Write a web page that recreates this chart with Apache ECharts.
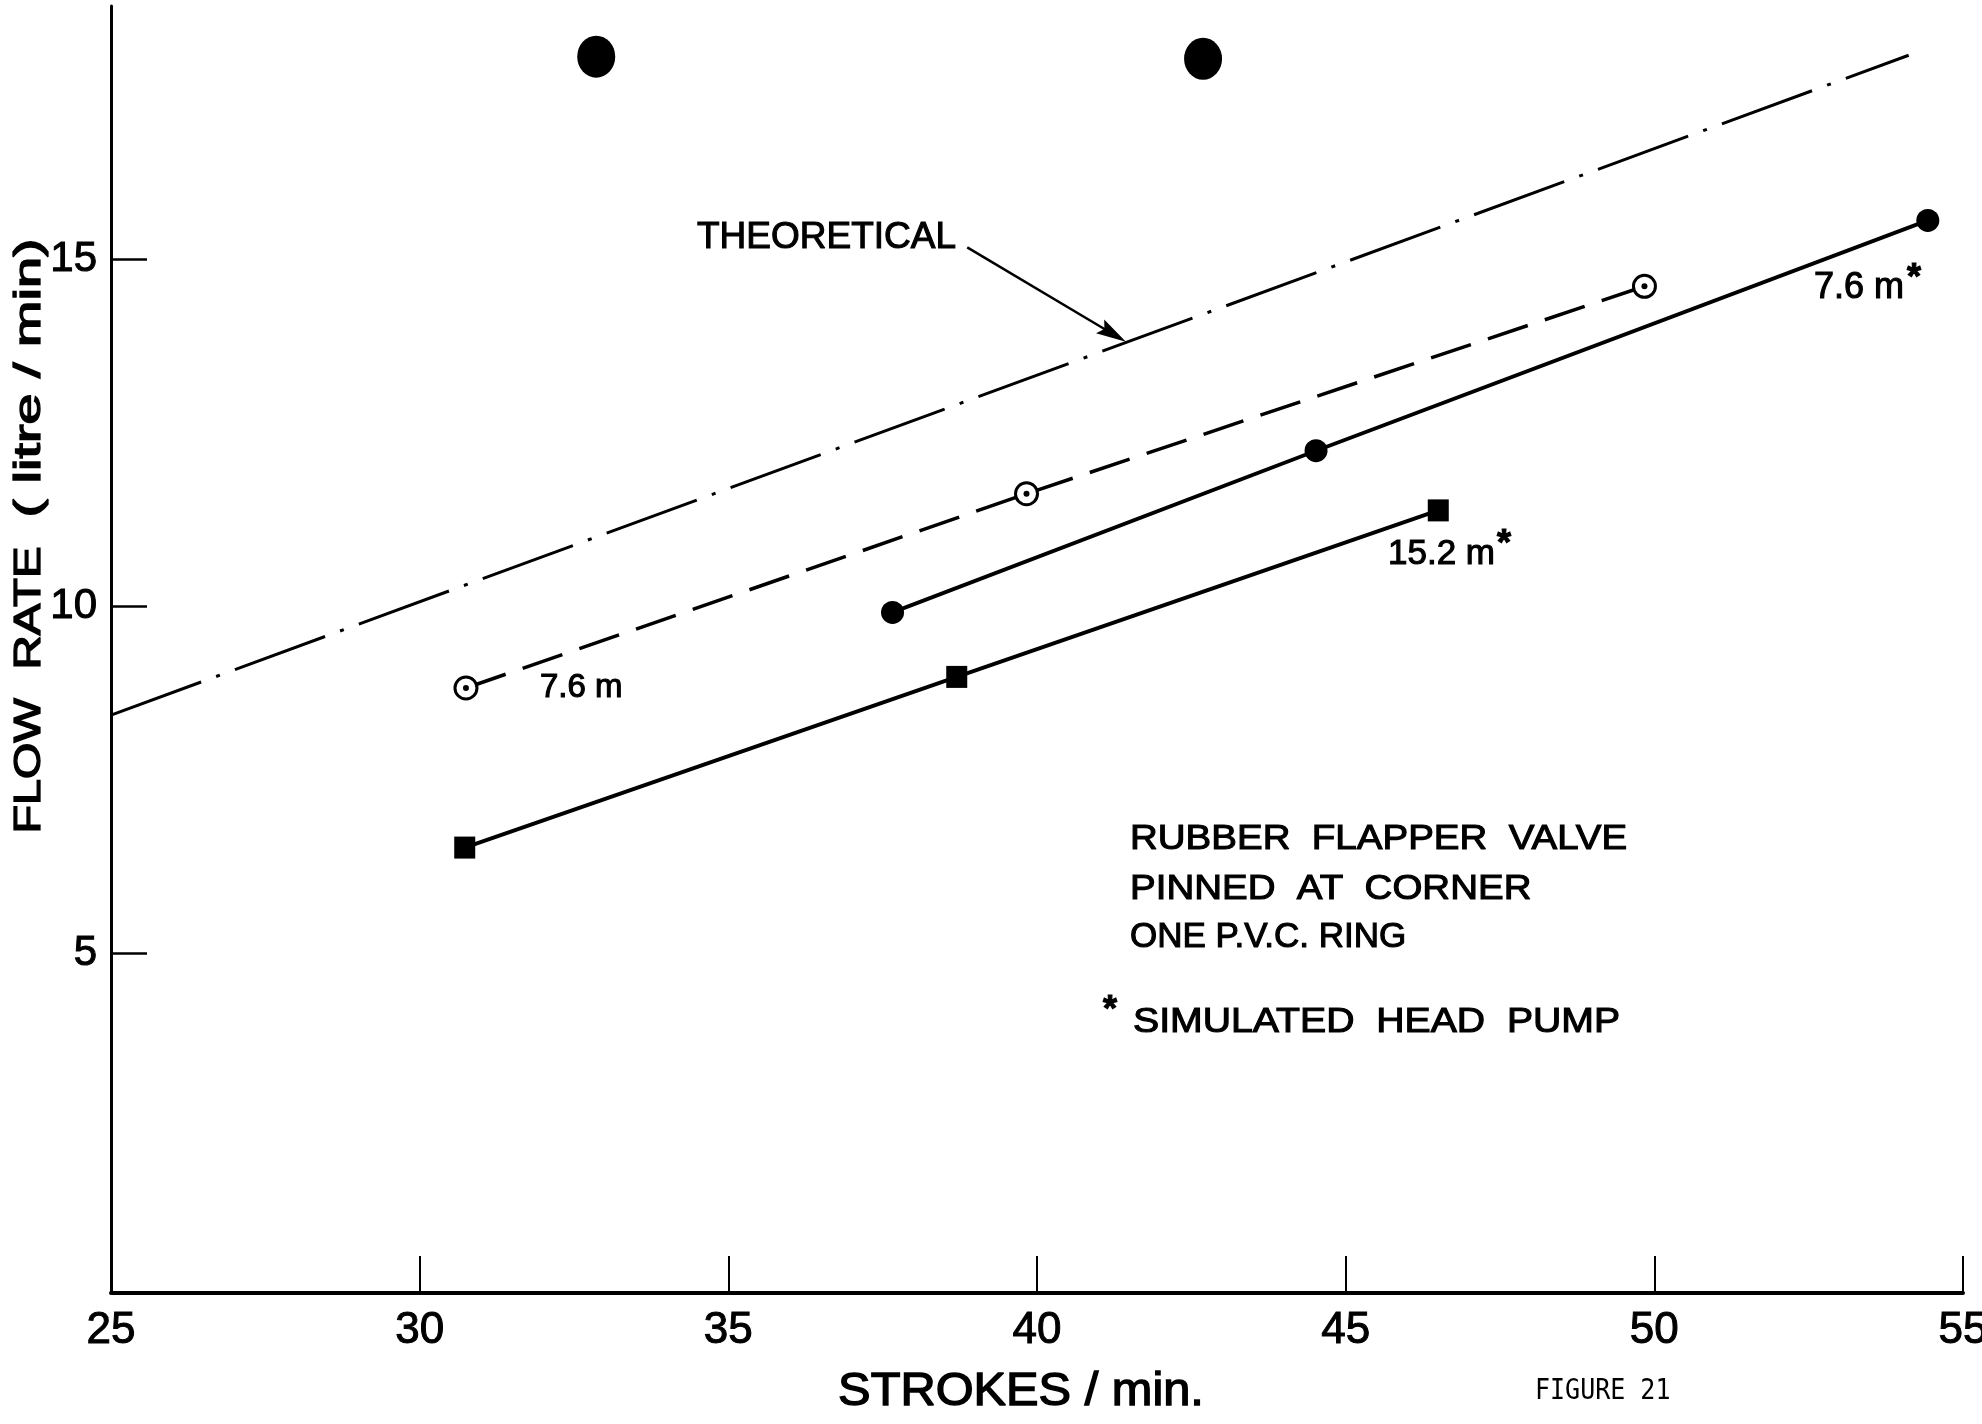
<!DOCTYPE html>
<html><head><meta charset="utf-8">
<script src="https://cdn.jsdelivr.net/npm/echarts@6/dist/echarts.min.js"></script>
<style>html,body{margin:0;padding:0;background:#fff}#chart{width:1982px;height:1424px}</style>
</head><body><div id="chart"></div>
<script>
// ---- data ----
const xTickValues = [25, 30, 35, 40, 45, 50, 55];
const yTickValues = [5, 10, 15];
const theoreticalX = [25, 54.12];
const theoreticalY = [8.43, 17.94];
const open76X = [30.75, 39.83, 49.84];      // 7.6 m (open circles, dashed)
const open76Y = [8.82, 11.62, 14.61];
const filled76X = [37.66, 44.52, 54.43];    // 7.6 m* (filled circles)
const filled76Y = [9.91, 12.24, 15.56];
const square152X = [30.73, 38.70, 46.50];   // 15.2 m* (squares)
const square152Y = [6.52, 8.98, 11.38];
const holeX = [32.86, 42.69];               // punch holes in the sheet
const holeY = [17.92, 17.89];
const arrowFrom = [38.87, 15.17];
const arrowTo = [41.44, 13.81];

const zip = (xs, ys) => xs.map((x, i) => [x, ys[i]]);
const FONT = '"Liberation Sans", Arial, sans-serif';

const chart = echarts.init(document.getElementById('chart'), null, {renderer: 'canvas'});

function txt(text, x, y, size, opts) {
  opts = opts || {};
  return {
    type: 'text', x: x, y: y, silent: true,
    rotation: opts.rotation || 0,
    scaleX: opts.scaleX || 1, scaleY: opts.scaleY || 1,
    style: {
      text: text, fill: '#000',
      stroke: opts.noStroke ? null : '#000', lineWidth: opts.noStroke ? 0 : (opts.sw || 1.1),
      fontSize: size, fontFamily: opts.family || FONT,
      fontWeight: opts.weight || 'normal',
      align: opts.align || 'left', verticalAlign: 'middle'
    }
  };
}

const option = {
  animation: false,
  backgroundColor: '#fff',
  grid: {left: 111, right: 19, top: 6, bottom: 131, containLabel: false, outerBoundsMode: 'none'},
  xAxis: {
    type: 'value', min: 25, max: 55, interval: 5,
    axisLine: {show: true, onZero: false, lineStyle: {color: '#000', width: 4}},
    axisTick: {show: true, inside: true, length: 37, lineStyle: {color: '#000', width: 2}},
    axisLabel: {show: true, margin: 16, color: '#000', fontSize: 44, fontFamily: FONT,
      textBorderColor: '#000', textBorderWidth: 1,
      customValues: xTickValues},
    splitLine: {show: false}
  },
  yAxis: {
    type: 'value', min: 0.1, max: 18.65,
    axisLine: {show: true, onZero: false, lineStyle: {color: '#000', width: 3}},
    axisTick: {show: true, inside: true, length: 36, lineStyle: {color: '#000', width: 2.5},
      customValues: yTickValues},
    axisLabel: {show: true, margin: 14, color: '#000', fontSize: 42, fontFamily: FONT,
      textBorderColor: '#000', textBorderWidth: 1,
      customValues: yTickValues},
    splitLine: {show: false}
  },
  series: [
    {
      name: 'THEORETICAL', type: 'line', data: zip(theoreticalX, theoreticalY),
      symbol: 'none', silent: true,
      lineStyle: {color: '#000', width: 3, type: [96, 16, 4, 16], cap: 'butt'}
    },
    {
      name: '7.6 m', type: 'line', data: zip(open76X, open76Y),
      symbol: 'circle', symbolSize: 22, silent: true,
      itemStyle: {color: '#fff', borderColor: '#000', borderWidth: 3, opacity: 1},
      lineStyle: {color: '#000', width: 3.5, type: [42, 18], cap: 'butt'}
    },
    {
      name: '7.6 m dot', type: 'scatter', data: zip(open76X, open76Y), z: 5,
      symbol: 'circle', symbolSize: 6, silent: true, itemStyle: {color: '#000', opacity: 1}
    },
    {
      name: '7.6 m*', type: 'line', data: zip(filled76X, filled76Y),
      symbol: 'circle', symbolSize: 23, silent: true,
      itemStyle: {color: '#000', opacity: 1},
      lineStyle: {color: '#000', width: 3.8}
    },
    {
      name: '15.2 m*', type: 'line', data: zip(square152X, square152Y),
      symbol: 'rect', symbolSize: [21, 22], silent: true,
      itemStyle: {color: '#000', opacity: 1},
      lineStyle: {color: '#000', width: 3.8}
    },
    {
      name: 'holes', type: 'scatter', data: zip(holeX, holeY),
      symbol: 'circle', symbolSize: [38, 42], silent: true, itemStyle: {color: '#000', opacity: 1}
    },
    {
      name: 'arrow', type: 'custom', silent: true,
      data: [[arrowFrom[0], arrowFrom[1], arrowTo[0], arrowTo[1]]],
      encode: {x: [0, 2], y: [1, 3]},
      renderItem: function (params, api) {
        const p1 = api.coord([api.value(0), api.value(1)]);
        const p2 = api.coord([api.value(2), api.value(3)]);
        const dx = p2[0] - p1[0], dy = p2[1] - p1[1];
        const len = Math.hypot(dx, dy), ux = dx / len, uy = dy / len;
        const headL = 30, headW = 8;
        const bx = p2[0] - ux * headL, by = p2[1] - uy * headL;
        return {
          type: 'group', children: [
            {type: 'line', shape: {x1: p1[0], y1: p1[1], x2: bx + ux * 6, y2: by + uy * 6},
              style: {stroke: '#000', lineWidth: 2.5}},
            {type: 'polygon', shape: {points: [
              [p2[0], p2[1]],
              [bx - uy * headW, by + ux * headW],
              [bx + ux * 5, by + uy * 5],
              [bx + uy * headW, by - ux * headW]
            ]}, style: {fill: '#000'}}
          ]
        };
      }
    }
  ],
  graphic: [
    txt('THEORETICAL', 697, 238, 37),
    txt('7.6 m', 540, 688, 33),
    txt('7.6 m', 1814, 288, 36),
    txt('*', 1914, 279, 36, {weight: 'bold', align: 'center'}),
    txt('15.2 m', 1388, 554, 35),
    txt('*', 1504, 545, 36, {weight: 'bold', align: 'center'}),
    txt('RUBBER  FLAPPER  VALVE', 1130, 839, 35, {scaleX: 1.1}),
    txt('PINNED  AT  CORNER', 1130, 889, 35, {scaleX: 1.1}),
    txt('ONE P.V.C. RING', 1130, 937, 35),
    txt('*', 1110, 1011, 36, {weight: 'bold', align: 'center'}),
    txt('SIMULATED  HEAD  PUMP', 1133, 1022, 35, {scaleX: 1.12}),
    txt('STROKES / min.', 1021, 1392, 46, {align: 'center', scaleX: 1.06, sw: 1.4}),
    txt('FIGURE 21', 1535, 1392, 25, {family: '"DejaVu Sans Mono", monospace', noStroke: true, scaleY: 1.1}),
    txt('FLOW', 30, 766, 36, {align: 'center', rotation: Math.PI / 2, scaleX: 1.3, sw: 1.3}),
    txt('RATE', 30, 608, 36, {align: 'center', rotation: Math.PI / 2, scaleX: 1.32, sw: 1.3}),
    txt('( litre / min)', 30, 378, 36, {align: 'center', rotation: Math.PI / 2, scaleX: 1.55, sw: 1.3})
  ]
};
chart.setOption(option);
</script>
</body></html>
